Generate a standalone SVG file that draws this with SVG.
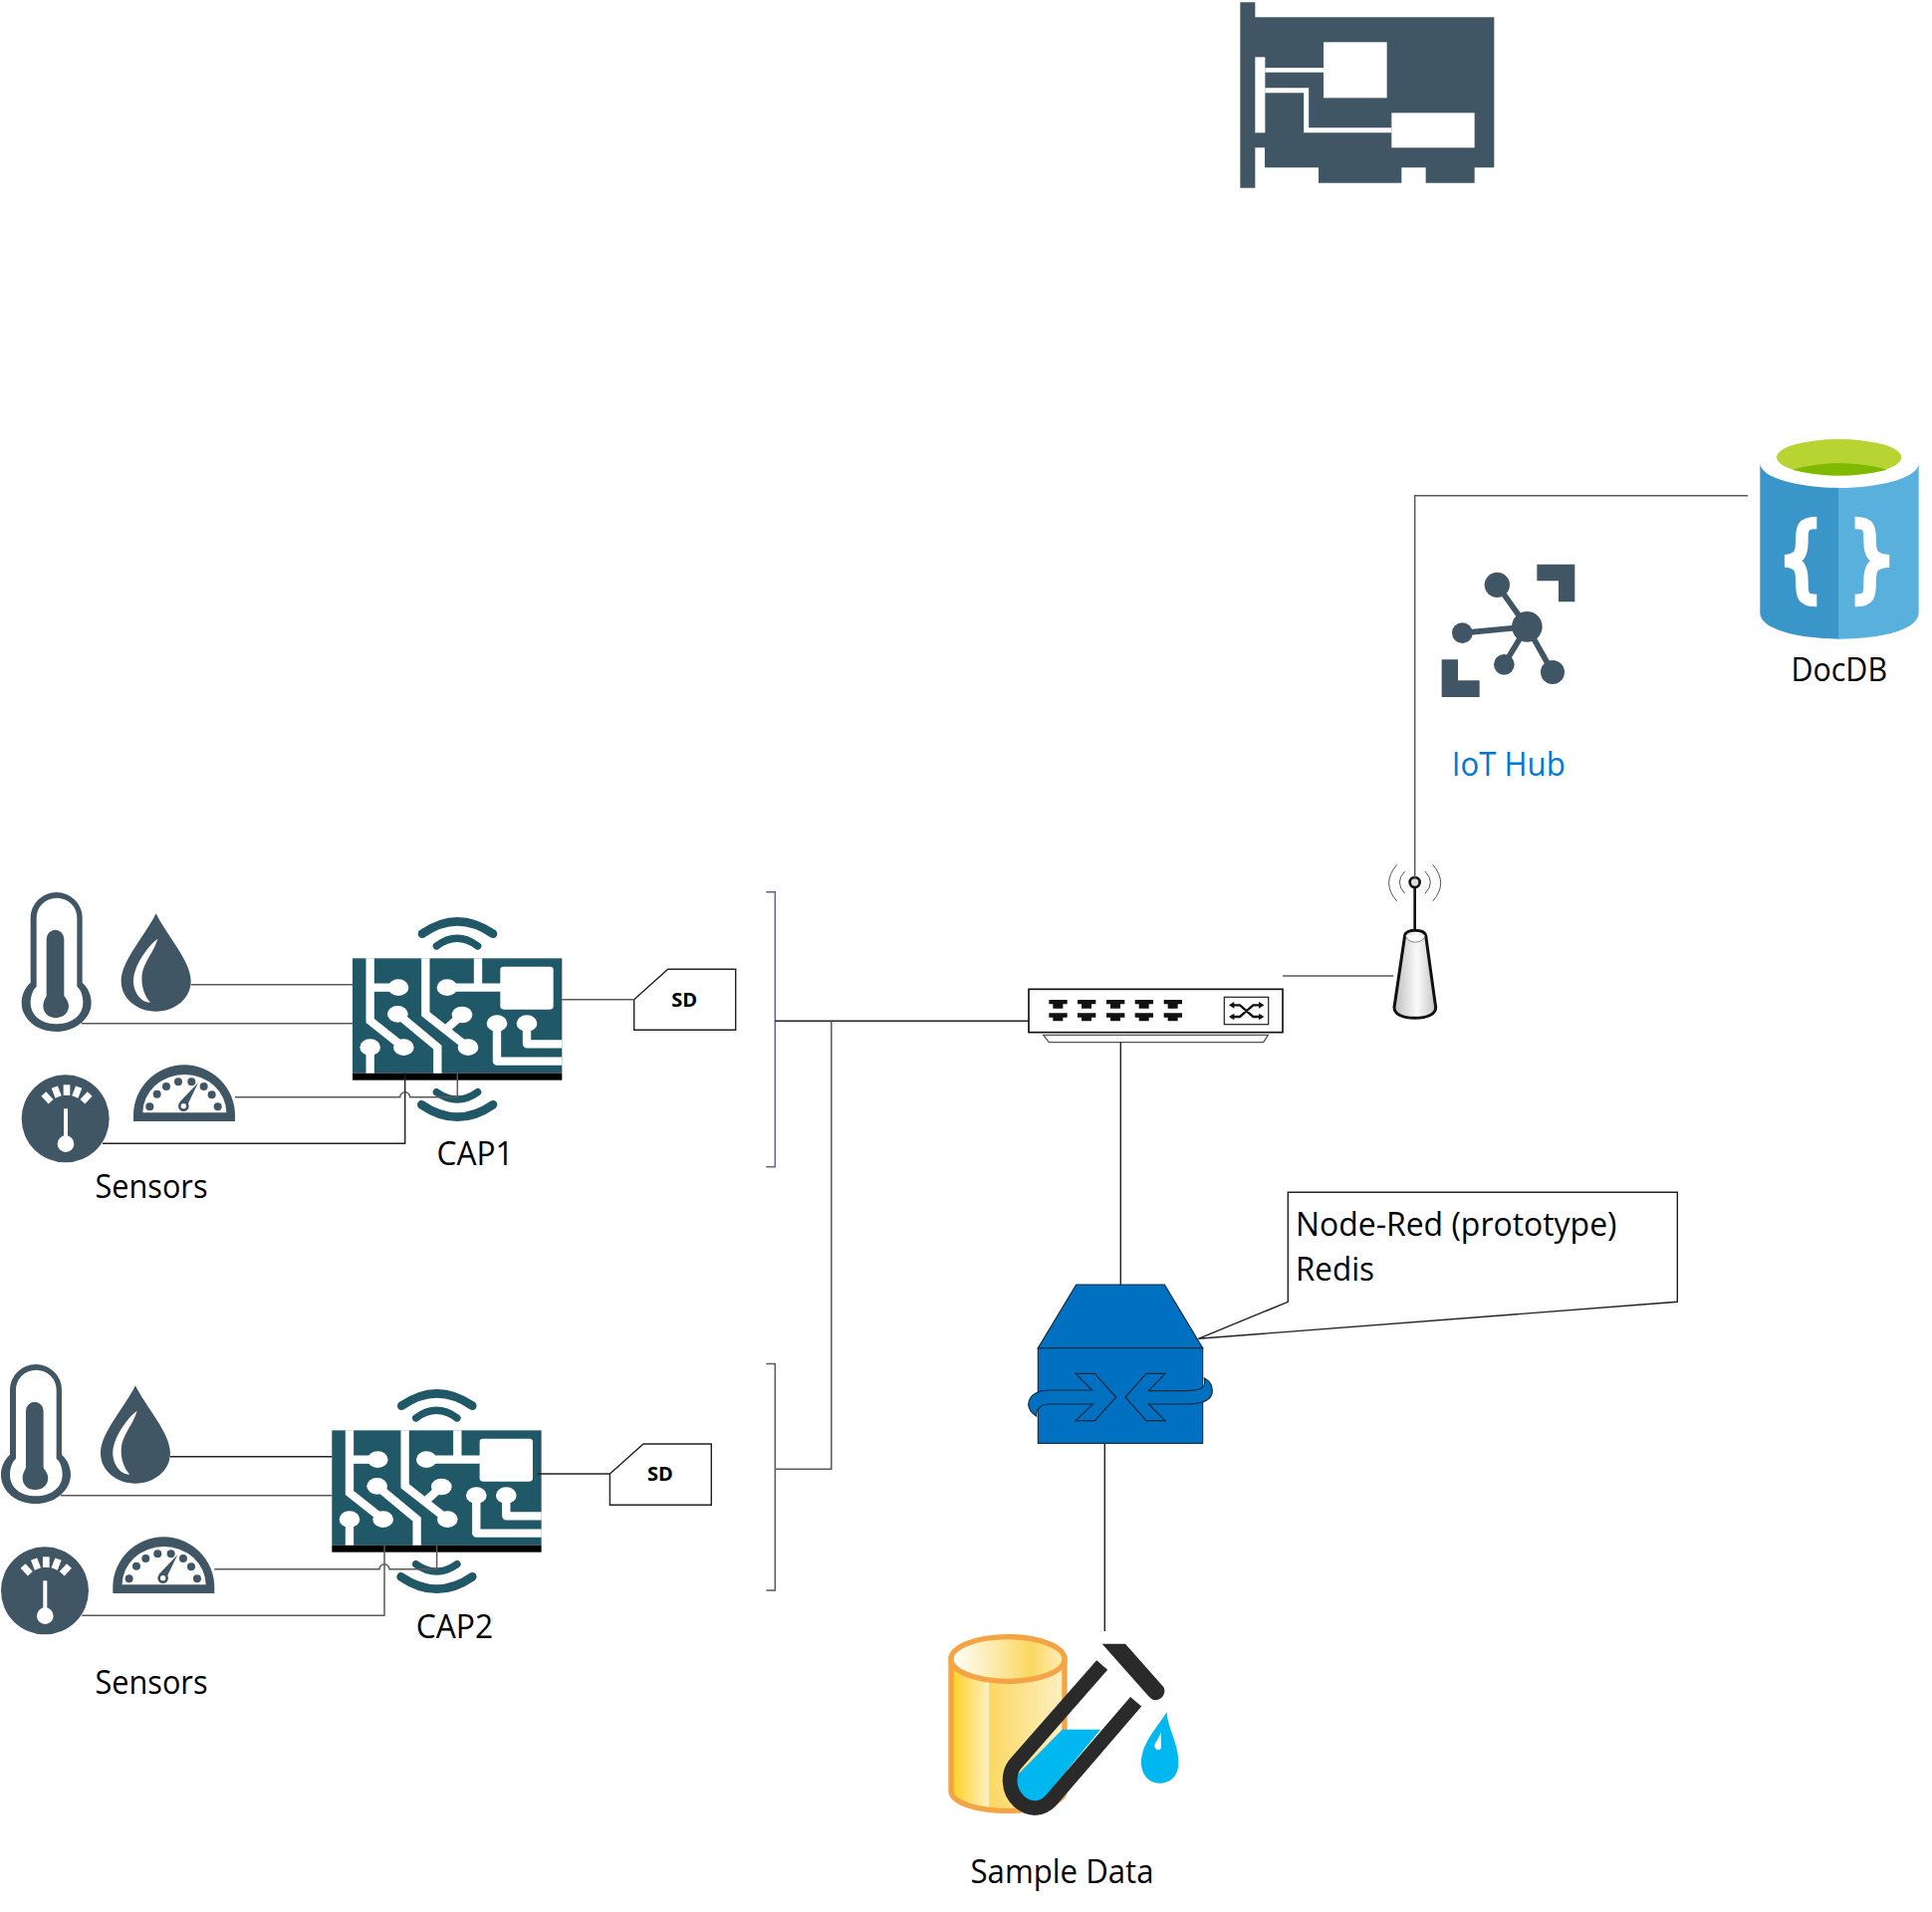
<svg xmlns="http://www.w3.org/2000/svg" xmlns:xlink="http://www.w3.org/1999/xlink" width="1940" height="1920" viewBox="0 0 1940 1920">
<style>
text{font-family:"Open Sans","Noto Sans","DejaVu Sans",sans-serif;font-size:32px;fill:#000}
.sd{font-weight:700;font-size:20px}
.ic{fill:#405665}
.w{fill:#fff}
.tr{fill:none;stroke:#fff;stroke-width:25}
.wf{fill:none;stroke:#215868}
.c{fill:none;stroke:#5a5a5a;stroke-width:1.500}
.k{fill:none;stroke:#222;stroke-width:1.400}
.box{fill:#fff;stroke:#222;stroke-width:1.400}
.bl{fill:#0070c0;stroke:#14283c;stroke-width:3.500}
</style>
<defs>
<linearGradient id="cyl" x1="0" x2="1" y1="0" y2="0">
<stop offset="0" stop-color="#ffcf1f"/><stop offset=".33" stop-color="#fdf0bf"/><stop offset=".335" stop-color="#fbd862"/><stop offset="1" stop-color="#fff0c4"/>
</linearGradient>
<linearGradient id="top" x1="0" x2="1" y1="0" y2="0">
<stop offset="0" stop-color="#fff"/><stop offset=".7" stop-color="#fbd862"/><stop offset="1" stop-color="#fdeeb8"/>
</linearGradient>
<linearGradient id="ant" x1="0" x2="1" y1="0" y2="0">
<stop offset="0" stop-color="#bdbdbd"/><stop offset=".55" stop-color="#fafafa"/><stop offset="1" stop-color="#c4c4c4"/>
</linearGradient>
<g id="therm">
<path class="ic" d="M92 320V125A78 77 0 0 1 248 125V320C265 335 275 358 275 380C275 430 225 468 170 468C110 468 65 430 65 380C65 358 75 335 92 320Z"/>
<path class="w" d="M110 332V125A61 60 0 0 1 232 125V332C245 342 250 362 250 380C250 420 215 445 170 445C125 445 92 420 92 380C92 362 98 342 110 332Z"/>
<path class="ic" d="M140 188A26.500 26.500 0 0 1 193 188V360C203 372 207 382 207 390C207 412 190 426 168 426C146 426 130 412 130 390C130 382 133 372 140 360Z"/>
</g>
<g id="drop">
<path class="ic" d="M470 112C500 175 575 255 575 315C575 370 525 407 470 407C415 407 365 370 365 315C365 255 440 175 470 112Z"/>
<path class="w" d="M475 188C445 210 402 270 402 315C402 350 425 380 453 380C435 360 424 330 428 295C432 260 465 225 475 188Z"/>
</g>
<g id="dial">
<circle class="ic" cx="197" cy="730" r="132"/>
<g class="w">
<rect x="191" y="628" width="20" height="32"/>
<rect x="191" y="628" width="20" height="32" transform="rotate(-21 201 730)"/>
<rect x="191" y="628" width="20" height="32" transform="rotate(21 201 730)"/>
<rect x="191" y="628" width="20" height="32" transform="rotate(-43 201 730)"/>
<rect x="191" y="628" width="20" height="32" transform="rotate(43 201 730)"/>
<rect x="192" y="700" width="12" height="95"/>
<circle cx="198" cy="806" r="25"/>
</g>
</g>
<g id="semi">
<path class="ic" d="M402 738V720A153 152 0 0 1 708 720V738Z"/>
<path class="w" d="M430 712A126 115 0 0 1 682 712Z"/>
<g class="ic">
<circle cx="451" cy="694" r="12"/><circle cx="473" cy="656" r="12"/><circle cx="501" cy="633" r="12"/><circle cx="537" cy="619" r="12"/><circle cx="577" cy="619" r="12"/><circle cx="614" cy="633" r="12"/><circle cx="638" cy="658" r="12"/><circle cx="656" cy="694" r="12"/>
<path d="M597 622L566 686L541 680Z"/><circle cx="553" cy="692" r="16"/>
</g>
<circle class="w" cx="553" cy="692" r="8"/>
</g>
<g id="board">
<path class="wf" stroke-width="26" stroke-linecap="round" d="M282 113Q388 39 495 113"/>
<path class="wf" stroke-width="22" stroke-linecap="round" d="M325 150Q387 104 449 150"/>
<path class="wf" stroke-width="22" stroke-linecap="round" d="M325 590Q387 634 449 590"/>
<path class="wf" stroke-width="26" stroke-linecap="round" d="M280 628Q388 702 495 628"/>
<rect x="72" y="187" width="631" height="346" fill="#215868"/>
<rect x="72" y="533" width="631" height="21" fill="#000"/>
<g class="tr">
<path d="M125 187V375L226 455"/><path d="M125 275H210"/>
<path d="M125 455V533"/>
<path d="M208 355L328 455V533"/>
<path d="M292 187V355L420 455"/>
<path d="M402 357L360 395"/>
<path d="M357 275H520"/><path d="M450 187V275"/>
<path d="M507 383V497H703" stroke-linejoin="round"/>
<path d="M597 383V445H703" stroke-linejoin="round"/>
</g>
<g class="w">
<ellipse cx="210" cy="275" rx="31" ry="25"/><ellipse cx="357" cy="275" rx="31" ry="25"/>
<ellipse cx="208" cy="355" rx="31" ry="25"/><ellipse cx="402" cy="357" rx="31" ry="25"/>
<ellipse cx="125" cy="455" rx="31" ry="25"/><ellipse cx="226" cy="455" rx="31" ry="25"/><ellipse cx="420" cy="455" rx="31" ry="25"/>
<ellipse cx="507" cy="383" rx="31" ry="25"/><ellipse cx="597" cy="383" rx="31" ry="25"/>
<rect x="517" y="212" width="160" height="129" rx="10"/>
</g>
</g>
<g id="port"><path fill="#111" d="M160 492H215V505H202V518H172V505H160ZM160 532H215V545H202V556H172V545H160Z"/></g>
</defs>

<g id="nic" transform="translate(1230 0) scale(.33333)">
<path class="ic" d="M46 7H91V52H811V505H752V551H605V505H532V551H282V505H120V445H91V566H46Z"/>
<g class="w"><rect x="297" y="127" width="191" height="168"/><rect x="502" y="340" width="250" height="105"/><rect x="91" y="172" width="30" height="228"/><rect x="121" y="204" width="176" height="14"/></g>
<path fill="none" stroke="#fff" stroke-width="15" d="M121 272H245V392H502"/>
</g>

<g id="docdb" transform="translate(1420 420) scale(.33333)">
<path fill="#3a96c9" d="M1042 135V585C1042 640 1170 665 1281 665V210C1160 210 1042 180 1042 135Z"/>
<path fill="#5ab0dc" d="M1520 135V585C1520 640 1400 665 1278 665V210C1400 210 1520 180 1520 135Z"/>
<ellipse cx="1280" cy="118" rx="188" ry="55" fill="#b8d432"/>
<path fill="#7fba00" d="M1140 155Q1280 115 1425 155Q1280 190 1140 155Z"/>
<path fill="none" stroke="#fff" stroke-width="38" d="M1213 315C1170 315 1168 330 1168 370C1168 410 1160 425 1118 430C1160 435 1168 450 1168 490C1168 535 1170 549 1213 549"/>
<path fill="none" stroke="#fff" stroke-width="38" d="M1328 315C1371 315 1373 330 1373 370C1373 410 1381 425 1430 430C1381 435 1373 450 1373 490C1373 535 1371 549 1328 549"/>
</g>
<g id="docdb-label"><text x="1798.500" y="684" textLength="96.500" lengthAdjust="spacingAndGlyphs">DocDB</text></g>

<g id="iothub">
<g transform="translate(1420 420) scale(.33333)" class="ic">
<path d="M250 502L340 628M145 647L340 628M271 742L340 628M417 765L340 628" fill="none" stroke="#405665" stroke-width="17"/>
<circle cx="340" cy="628" r="46"/><circle cx="250" cy="502" r="38"/><circle cx="145" cy="647" r="31"/><circle cx="271" cy="742" r="31"/><circle cx="417" cy="765" r="36"/>
<path d="M370 440H484V553H435V490H370Z"/><path d="M83 727H132V790H197V840H83Z"/>
</g>
<text x="1457.800" y="778.600" textLength="114" lengthAdjust="spacingAndGlyphs" style="fill:#0078d7">IoT Hub</text>
</g>

<g id="antenna" transform="translate(1000 840) scale(.33333)">
<path d="M1232 298L1200 515C1200 535 1225 547 1262 547C1300 547 1325 535 1325 515L1295 298C1290 278 1235 278 1232 298Z" fill="url(#ant)" stroke="#111" stroke-width="9"/>
<path d="M1234 298C1240 325 1288 325 1293 298" fill="#fff" stroke="#444" stroke-width="2"/>
<path d="M1262 155V285" stroke="#111" stroke-width="8"/>
<circle cx="1262" cy="138" r="15" fill="#ddd" stroke="#111" stroke-width="8"/>
<g fill="none" stroke="#333" stroke-width="2.500">
<path d="M1208 85Q1160 140 1208 195"/><path d="M1232 105Q1200 138 1232 172"/><path d="M1316 85Q1364 140 1316 195"/><path d="M1293 105Q1325 138 1293 172"/>
</g>
</g>

<g id="switch" transform="translate(1000 840) scale(.33333)">
<rect x="99" y="460" width="765" height="130" fill="#fff" stroke="#111" stroke-width="5"/>
<path d="M143 598H820L806 620H160Z" fill="#fff" stroke="#555" stroke-width="4"/>
<use xlink:href="#port" href="#port"/><use xlink:href="#port" href="#port" x="86"/><use xlink:href="#port" href="#port" x="173"/><use xlink:href="#port" href="#port" x="259"/><use xlink:href="#port" href="#port" x="346"/>
<rect x="688" y="484" width="133" height="82" fill="#fff" stroke="#333" stroke-width="4"/>
<path d="M708 508H735L775 543H802M708 543H735L775 508H802" fill="none" stroke="#111" stroke-width="7"/>
<path d="M702 508L718 498V518ZM702 543L718 533V553ZM808 508L792 498V518ZM808 543L792 533V553Z" fill="#111"/>
</g>

<g id="redis" transform="translate(1010 1180) scale(.33333)">
<path class="bl" d="M212 330H478L593 521H97Z"/>
<rect class="bl" x="97" y="521" width="496" height="287"/>
<path class="bl" d="M210 598H268L332 669L268 740H210L262 690H130C105 690 90 705 92 726C75 715 68 700 68 690C70 660 100 648 135 648H260Z"/>
<path class="bl" d="M480 598H423L360 669L423 740H480L430 690H540C590 690 622 680 622 650C622 630 610 618 598 612C605 640 590 650 540 650H430Z"/>
</g>

<g id="callout">
<path class="box" d="M1293.300 1197.300H1684.300V1307.300L1203.300 1344.300L1293.300 1307.300Z"/>
<text x="1301" y="1241.400" textLength="322.500" lengthAdjust="spacingAndGlyphs">Node-Red (prototype)</text>
<text x="1301" y="1285.700" textLength="79" lengthAdjust="spacingAndGlyphs">Redis</text>
</g>

<g id="sample-data">
<g transform="translate(930 1620) scale(.33333)">
<path d="M75 138V535C75 570 150 595 245 595C340 595 417 570 417 535V138Z" fill="url(#cyl)" stroke="#f4a444" stroke-width="16"/>
<ellipse cx="246" cy="138" rx="171" ry="67" fill="url(#top)" stroke="#f4a444" stroke-width="16"/>
<path d="M410 350H525L345 570C320 585 290 560 272 525V490Z" fill="#00b7f0"/>
<path d="M530 156L272 450C244 480 245 535 280 567C315 597 350 590 375 565L632 266" fill="none" stroke="#2a2a2a" stroke-width="44"/>
<path d="M530 92H600L715 222C725 240 710 262 690 262C680 262 675 255 670 250Z" fill="#2a2a2a"/>
<path d="M725 297C725 340 760 390 760 450C760 490 735 512 705 512C670 512 648 485 648 450C648 390 700 340 725 297Z" fill="#00b7f0"/>
<path d="M708 358C700 380 688 390 688 400C690 415 705 415 708 405Z" fill="#fff"/>
</g>
<text x="974.500" y="1891.400" textLength="184" lengthAdjust="spacingAndGlyphs">Sample Data</text>
</g>

<g id="cap1-sensors">
<g transform="translate(0 880) scale(.33333)"><use xlink:href="#therm" href="#therm"/><use xlink:href="#drop" href="#drop"/><use xlink:href="#dial" href="#dial"/><use xlink:href="#semi" href="#semi"/></g>
<text x="95.500" y="1203" textLength="113" lengthAdjust="spacingAndGlyphs">Sensors</text>
</g>
<g id="cap1">
<use xlink:href="#board" href="#board" transform="translate(330 900) scale(.33333)"/>
<text x="438.500" y="1170" textLength="77" lengthAdjust="spacingAndGlyphs">CAP1</text>
</g>
<g id="sd1">
<path class="box" d="M636.700 1003.700L670.700 973.300H738.700V1034.300H636.700Z"/>
<text class="sd" x="674.300" y="1010.700">SD</text>
</g>

<g id="cap2-sensors">
<g transform="translate(-20.700 1354) scale(.33333)"><use xlink:href="#therm" href="#therm"/><use xlink:href="#drop" href="#drop"/><use xlink:href="#dial" href="#dial"/><use xlink:href="#semi" href="#semi"/></g>
<text x="95.500" y="1700.600" textLength="113" lengthAdjust="spacingAndGlyphs">Sensors</text>
</g>
<g id="cap2">
<use xlink:href="#board" href="#board" transform="translate(309.300 1374) scale(.33333)"/>
<text x="417.700" y="1644.600" textLength="77.500" lengthAdjust="spacingAndGlyphs">CAP2</text>
</g>
<g id="sd2">
<path class="box" d="M612.400 1480L646 1450H714.300V1511.300H612.400Z"/>
<text class="sd" x="650.100" y="1487.300">SD</text>
</g>

<g id="connectors">
<path class="c" d="M191.700 988.700H354M81.700 1027.700H354"/>
<path class="c" d="M236 1101.700H401.700a5 5 0 0 1 10 0H459.300V1077.300"/>
<path class="k" d="M103 1148.300H406.700V1077.300"/>
<path class="c" d="M564.300 1003.700H636.700"/>
<path class="k" d="M171 1462.700H333.300"/>
<path class="c" d="M61 1501.700H333.300"/>
<path class="c" d="M215.300 1575.700H381a5 5 0 0 1 10 0H438.600V1551.300"/>
<path class="c" d="M82.300 1622.300H386V1551.300"/>
<path class="k" d="M539.700 1480H612.400"/>
<path fill="none" stroke="#6c5f96" stroke-width="1.500" d="M769.300 895.700H778.300V1171.700H769.300"/>
<path class="c" d="M769.400 1369.600H778.300V1597H769.400"/>
<path class="k" d="M778.300 1025.300H1033"/>
<path class="c" d="M834.800 1025.300V1475.300H778.300"/>
<path class="k" d="M1125.300 1046.700V1290"/>
<path class="k" d="M1109.300 1449.300V1638"/>
<path class="c" d="M1288 980H1399.300"/>
<path class="c" d="M1755 497.700H1420.700V883"/>
</g>
</svg>
